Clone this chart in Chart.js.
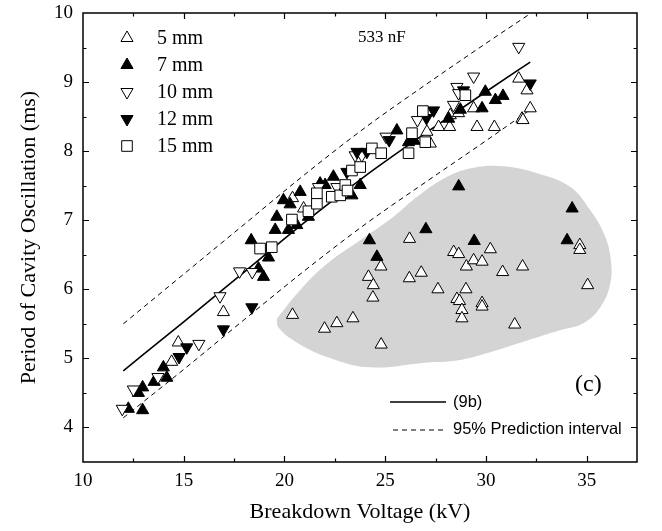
<!DOCTYPE html>
<html>
<head>
<meta charset="utf-8">
<script src="https://cdn.jsdelivr.net/npm/chart.js@4.4.1/dist/chart.umd.min.js"></script>
<style>
  html, body { margin: 0; padding: 0; background: #fff; }
  #wrap { width: 662px; height: 531px; }
</style>
</head>
<body>
<div id="wrap"><canvas id="chart" width="662" height="531"></canvas></div>
<script>
// Axis ticks
const xTicks = [10, 15, 20, 25, 30, 35];
const xMinor = [12.5, 17.5, 22.5, 27.5, 32.5];
const yTicks = [4, 5, 6, 7, 8, 9, 10];
const yMinor = [4.5, 5.5, 6.5, 7.5, 8.5, 9.5];

// Measured points: [breakdown voltage kV, period ms], one list per gap length
const gap5mm = [
  [14.40, 4.95], [14.73, 5.23], [16.97, 5.67],
  [20.40, 5.63], [20.40, 7.32], [20.95, 7.17], [21.99, 5.43], [22.60, 5.51], [23.40, 5.58],
  [24.17, 6.18], [24.39, 5.88], [24.41, 6.06], [24.79, 6.33], [24.80, 5.20],
  [26.20, 6.16], [26.21, 6.73], [26.79, 6.24], [27.24, 8.11], [27.07, 8.28], [27.62, 6.00],
  [27.65, 8.35], [28.20, 8.35], [28.23, 8.52], [28.40, 6.54], [28.56, 5.86], [28.64, 8.55],
  [28.65, 6.51], [28.69, 5.83], [28.81, 5.70], [28.81, 5.58], [29.01, 6.00], [29.03, 6.33],
  [29.39, 6.42], [29.39, 8.62], [29.56, 8.35], [29.81, 6.40], [29.81, 5.80], [29.81, 5.75],
  [30.22, 6.58], [30.42, 8.35], [30.83, 6.25], [31.43, 5.49], [31.63, 9.05], [31.79, 8.47],
  [31.84, 8.45], [31.82, 6.33], [32.04, 8.88], [32.20, 8.62], [34.66, 6.64], [34.66, 6.57],
  [35.05, 6.06]
];
const gap7mm = [
  [12.25, 4.27], [12.96, 4.25], [12.75, 4.50], [12.96, 4.58], [13.53, 4.66], [14.16, 4.72],
  [13.99, 4.87], [18.35, 6.71], [18.71, 6.30], [18.96, 6.18], [19.21, 6.46], [19.54, 6.86],
  [19.62, 7.05], [19.95, 7.29], [20.20, 6.86], [20.28, 7.23], [20.61, 6.93], [20.78, 7.41],
  [21.19, 7.05], [21.77, 7.53], [22.02, 7.51], [22.43, 7.63], [23.35, 7.36], [23.76, 7.51],
  [24.22, 6.71], [24.59, 6.47], [25.58, 8.30], [26.16, 8.13], [26.45, 8.15], [27.02, 6.87],
  [28.15, 8.47], [28.65, 7.49], [28.73, 8.60], [29.42, 6.70], [29.81, 8.62], [29.97, 8.86],
  [30.47, 8.74], [30.85, 8.80], [34.03, 6.71], [34.28, 7.17]
];
const gap10mm = [
  [11.95, 4.27], [12.50, 4.55], [13.72, 4.73], [15.75, 5.21], [16.80, 5.90], [17.77, 6.26],
  [18.40, 6.25], [21.69, 7.48], [22.60, 7.48], [23.51, 7.94], [23.84, 7.94], [25.04, 8.21],
  [26.60, 8.45], [28.39, 8.67], [28.56, 8.93], [28.64, 8.84], [29.39, 9.08], [31.63, 9.51]
];
const gap12mm = [
  [14.77, 5.02], [15.15, 5.16], [16.97, 5.42], [18.38, 5.74], [23.10, 7.70], [23.60, 7.99],
  [24.09, 7.99], [25.20, 8.16], [27.05, 8.48], [27.40, 8.59], [28.89, 8.88], [32.20, 8.98]
];
const gap15mm = [
  [18.79, 6.59], [19.37, 6.61], [20.37, 7.01], [21.19, 7.13], [21.61, 7.24], [21.61, 7.39],
  [22.35, 7.34], [22.77, 7.36], [23.02, 7.51], [23.13, 7.43], [23.35, 7.72], [23.76, 7.77],
  [24.34, 8.04], [24.80, 7.97], [26.16, 7.97], [26.33, 8.26], [26.99, 8.13], [26.87, 8.58],
  [28.98, 8.81]
];

// Fitted relation (9b) and its 95% prediction band
const fitV   = [12, 15, 18, 21, 24, 27, 30, 32.2];
const fitT   = [4.82, 5.53, 6.25, 6.97, 7.64, 8.26, 8.86, 9.29];
const upperT = [5.50, 6.22, 6.94, 7.66, 8.34, 8.96, 9.56, 9.99];
const lowerT = [4.14, 4.84, 5.56, 6.27, 6.94, 7.55, 8.15, 8.60];

// Outline of the shaded outlier region (closed loop)
const blobV = [19.62, 20.78, 22.11, 23.76, 25.41, 26.58, 28.07, 29.39, 30.88, 32.54, 34.19,
               35.19, 35.85, 36.18, 36.18, 35.68, 34.84, 33.70, 31.86, 30.22, 28.56, 27.07,
               24.26, 22.11, 20.45, 19.70, 19.62];
const blobT = [5.575, 5.99, 6.37, 6.71, 7.05, 7.34, 7.63, 7.76, 7.78, 7.68, 7.48,
               7.14, 6.81, 6.47, 6.09, 5.74, 5.51, 5.41, 5.24, 5.09, 4.97, 4.94,
               4.87, 5.02, 5.26, 5.45, 5.575];

const SERIF = '"Liberation Serif", "Times New Roman", serif';
const SANS = '"Liberation Sans", Arial, sans-serif';

const toXY = pts => pts.map(([x, y]) => ({ x, y }));
const zipXY = (xs, ys) => xs.map((x, i) => ({ x, y: ys[i] }));

function pointSeries(label, pts, style, rotation, fill, radius, order) {
  return {
    label, data: toXY(pts), order,
    pointStyle: style, pointRotation: rotation,
    pointRadius: radius, pointHoverRadius: radius,
    pointBorderWidth: 1, pointBorderColor: '#000',
    pointBackgroundColor: fill, backgroundColor: fill, borderColor: '#000',
    showLine: false, isMarker: true
  };
}

function curve(label, xs, ys, dash, width, order) {
  return {
    label, data: zipXY(xs, ys), order,
    showLine: true, pointRadius: 0, pointHoverRadius: 0,
    borderColor: '#000', borderWidth: width, borderDash: dash,
    cubicInterpolationMode: 'monotone', fill: false
  };
}

const datasets = [
  {
    label: 'region', data: zipXY(blobV, blobT), order: 30,
    showLine: true, pointRadius: 0, pointHoverRadius: 0,
    borderWidth: 0, borderColor: 'rgba(0,0,0,0)',
    backgroundColor: '#d4d4d4', fill: 'shape', tension: 0.4
  },
  curve('(9b)', fitV, fitT, [], 1.6, 20),
  curve('upper', fitV, upperT, [5, 4], 1, 21),
  curve('lower', fitV, lowerT, [5, 4], 1, 22),
  pointSeries('5 mm', gap5mm, 'triangle', 0, '#fff', 7, 5),
  pointSeries('7 mm', gap7mm, 'triangle', 0, '#000', 7, 4),
  pointSeries('10 mm', gap10mm, 'triangle', 180, '#fff', 7, 3),
  pointSeries('12 mm', gap12mm, 'triangle', 180, '#000', 7, 2),
  pointSeries('15 mm', gap15mm, 'rect', 0, '#fff', 7.5, 1)
];

// Draws the boxed frame with inward ticks, both legends and the annotations
const framePlugin = {
  id: 'frame',
  afterDatasetsDraw(chart) {
    const { ctx, chartArea: a, scales: { x, y } } = chart;
    ctx.save();
    ctx.strokeStyle = '#000';
    ctx.lineWidth = 1.5;
    ctx.strokeRect(a.left, a.top, a.right - a.left, a.bottom - a.top);

    ctx.lineWidth = 1.2;
    ctx.beginPath();
    const xMarks = (vals, len) => vals.forEach(v => {
      const px = Math.round(x.getPixelForValue(v)) + 0.5;
      ctx.moveTo(px, a.bottom); ctx.lineTo(px, a.bottom - len);
      ctx.moveTo(px, a.top); ctx.lineTo(px, a.top + len);
    });
    const yMarks = (vals, len) => vals.forEach(v => {
      const py = Math.round(y.getPixelForValue(v)) + 0.5;
      ctx.moveTo(a.left, py); ctx.lineTo(a.left + len, py);
      ctx.moveTo(a.right, py); ctx.lineTo(a.right - len, py);
    });
    xMarks(xTicks.filter(v => v > x.min && v < x.max), 6);
    xMarks(xMinor, 3.5);
    yMarks(yTicks.filter(v => v > y.min && v < y.max), 6);
    yMarks(yMinor, 3.5);
    ctx.stroke();

    // symbol legend
    const markers = chart.data.datasets.filter(d => d.isMarker);
    ctx.font = '20px ' + SERIF;
    ctx.textBaseline = 'middle';
    ctx.textAlign = 'left';
    markers.forEach((d, i) => {
      const cy = a.top + 25 + i * 27;
      const cx = a.left + 44;
      ctx.fillStyle = d.pointBackgroundColor;
      ctx.strokeStyle = '#000';
      ctx.lineWidth = 1;
      Chart.helpers.drawPoint(ctx, {
        pointStyle: d.pointStyle, rotation: d.pointRotation,
        radius: d.pointRadius, borderWidth: 1
      }, cx, cy);
      ctx.fillStyle = '#000';
      ctx.fillText(d.label, a.left + 74, cy + 1);
    });

    ctx.fillStyle = '#000';
    ctx.font = '17px ' + SERIF;
    ctx.fillText('533 nF', a.left + 275, a.top + 25);

    ctx.font = '24px ' + SERIF;
    ctx.fillText('(c)', a.left + 492, a.top + 372);

    // line legend
    const lx0 = a.left + 307, lx1 = a.left + 363;
    ctx.strokeStyle = '#000';
    ctx.lineWidth = 1.6;
    ctx.beginPath();
    ctx.moveTo(lx0, a.top + 389); ctx.lineTo(lx1, a.top + 389);
    ctx.stroke();
    ctx.lineWidth = 1;
    ctx.setLineDash([5, 4]);
    ctx.beginPath();
    ctx.moveTo(lx0 + 3, a.top + 417); ctx.lineTo(lx1, a.top + 417);
    ctx.stroke();
    ctx.setLineDash([]);
    ctx.font = '16.5px ' + SANS;
    ctx.fillText('(9b)', a.left + 370, a.top + 389);
    ctx.fillText('95% Prediction interval', a.left + 370, a.top + 416);
    ctx.restore();
  }
};

new Chart(document.getElementById('chart'), {
  type: 'scatter',
  data: { datasets },
  options: {
    responsive: false,
    devicePixelRatio: 1,
    animation: false,
    layout: { padding: { top: 13, right: 25, left: 0, bottom: 0 } },
    plugins: { legend: { display: false }, tooltip: { enabled: false } },
    events: [],
    scales: {
      x: {
        type: 'linear', min: 10, max: 37.5,
        afterBuildTicks: s => { s.ticks = xTicks.map(v => ({ value: v })); },
        afterFit: s => { s.height = 69; s.paddingLeft = 0; s.paddingRight = 0; },
        grid: { display: false, drawTicks: false },
        border: { display: false },
        ticks: { color: '#000', font: { family: SERIF, size: 19 }, padding: 8, maxRotation: 0, autoSkip: false },
        title: { display: true, text: 'Breakdown Voltage (kV)', color: '#000',
                 font: { family: SERIF, size: 22 }, padding: { top: 0, bottom: 6 } }
      },
      y: {
        type: 'linear', min: 3.5, max: 10,
        afterBuildTicks: s => { s.ticks = yTicks.map(v => ({ value: v })); },
        afterFit: s => { s.width = 83; s.paddingTop = 0; s.paddingBottom = 0; },
        grid: { display: false, drawTicks: false },
        border: { display: false },
        ticks: { color: '#000', font: { family: SERIF, size: 19 }, padding: 10, autoSkip: false },
        title: { display: true, text: 'Period of Cavity Oscillation (ms)', color: '#000',
                 font: { family: SERIF, size: 22 }, padding: { top: 16, bottom: 0 } }
      }
    }
  },
  plugins: [framePlugin]
});
</script>
</body>
</html>
